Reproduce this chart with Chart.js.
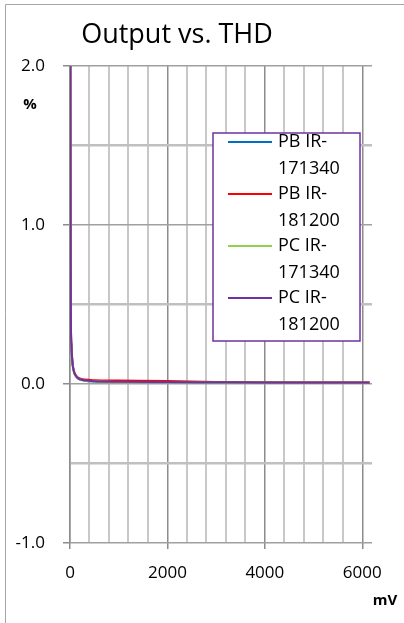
<!DOCTYPE html>
<html>
<head>
<meta charset="utf-8">
<script src="https://cdn.jsdelivr.net/npm/chart.js@4/dist/chart.umd.min.js"></script>
<style>
  html, body { margin: 0; padding: 0; background: #fff; }
  #wrap { width: 404px; height: 623px; position: relative; }
</style>
</head>
<body>
<div id="wrap"><canvas id="thd-chart"></canvas></div>
<script>
// output level in mV, shared by all four measurements
var mv = [3, 6, 10, 15, 20, 30, 45, 60, 80, 100, 150, 200, 300, 500, 1000, 2000, 3000, 4000, 5000, 6150];

var pb171340 = [5.0, 2.6, 1.4, 0.75, 0.34, 0.24, 0.15, 0.105, 0.075, 0.058, 0.038, 0.028, 0.021, 0.016, 0.013, 0.011, 0.010, 0.010, 0.010, 0.010];
var pb181200 = [5.2, 2.7, 1.5, 0.80, 0.36, 0.25, 0.16, 0.115, 0.085, 0.066, 0.045, 0.035, 0.028, 0.024, 0.022, 0.019, 0.013, 0.011, 0.010, 0.010];
var pc171340 = [5.0, 2.6, 1.4, 0.76, 0.34, 0.24, 0.15, 0.108, 0.077, 0.060, 0.040, 0.030, 0.022, 0.017, 0.013, 0.011, 0.010, 0.010, 0.010, 0.010];
var pc181200 = [5.1, 2.6, 1.45, 0.78, 0.35, 0.245, 0.155, 0.11, 0.08, 0.062, 0.041, 0.031, 0.023, 0.017, 0.014, 0.012, 0.011, 0.010, 0.010, 0.010];

var seriesNames = [["PB IR-", "171340"], ["PB IR-", "181200"], ["PC IR-", "171340"], ["PC IR-", "181200"]];
var seriesColors = ["#0070C0", "#FF0000", "#92D050", "#7030A0"];
var seriesValues = [pb171340, pb181200, pc171340, pc181200];

var FONT = "'Open Sans', sans-serif";

function pts(vals) {
    return vals.map(function (v, i) { return { x: mv[i], y: v }; });
}

function isMult(v, step) {
    return Math.abs(v - Math.round(v / step) * step) < 1e-6;
}

var datasets = seriesValues.map(function (vals, i) {
    return {
        label: seriesNames[i].join(" "),
        data: pts(vals),
        borderColor: seriesColors[i],
        backgroundColor: seriesColors[i],
        borderWidth: 2,
        pointRadius: 0,
        cubicInterpolationMode: 'monotone',
        order: seriesValues.length - i, // last series drawn on top, like Excel
        fill: false
    };
});

// title, axis units, outer frame and the boxed legend
var decor = {
    id: 'decor',
    beforeDraw: function (chart) {
        var ctx = chart.ctx;
        ctx.save();
        ctx.strokeStyle = "#a6a6a6";
        ctx.lineWidth = 1;
        ctx.beginPath();
        ctx.moveTo(5.5, 623);
        ctx.lineTo(5.5, 4.5);
        ctx.lineTo(404, 4.5);
        ctx.stroke();
        ctx.restore();
    },
    afterDraw: function (chart) {
        var ctx = chart.ctx;
        ctx.save();
        ctx.fillStyle = "#000";
        ctx.textBaseline = "middle";
        ctx.textAlign = "center";
        ctx.font = "27px " + FONT;
        ctx.fillText("Output vs. THD", 177, 35);
        ctx.font = "bold 15px " + FONT;
        ctx.fillText("%", 30, 105);
        ctx.fillText("mV", 385, 601);

        // legend
        ctx.fillStyle = "#fff";
        ctx.fillRect(213, 133, 147, 208);
        ctx.strokeStyle = "#7030A0";
        ctx.lineWidth = 1.5;
        ctx.strokeRect(213, 133, 147, 208);
        ctx.textAlign = "left";
        ctx.font = "18px " + FONT;
        chart.data.datasets.forEach(function (ds, i) {
            var y = 142 + i * 52;
            ctx.strokeStyle = ds.borderColor;
            ctx.lineWidth = 2;
            ctx.beginPath();
            ctx.moveTo(228, y);
            ctx.lineTo(272, y);
            ctx.stroke();
            ctx.fillStyle = "#000";
            ctx.fillText(seriesNames[i][0], 278, y);
            ctx.fillText(seriesNames[i][1], 278, y + 27);
        });
        ctx.restore();
    }
};

new Chart(document.getElementById("thd-chart"), {
    type: 'line',
    data: { datasets: datasets },
    plugins: [decor],
    options: {
        responsive: true,
        maintainAspectRatio: false,
        animation: false,
        layout: { padding: { top: 66, right: 32, left: 0, bottom: 0 } },
        plugins: {
            legend: { display: false },
            title: { display: false },
            tooltip: { enabled: false }
        },
        scales: {
            x: {
                type: 'linear',
                min: 0,
                max: 6200,
                afterBuildTicks: function (axis) {
                    axis.ticks = [];
                    for (var v = 0; v <= 6000; v += 400) axis.ticks.push({ value: v });
                },
                afterFit: function (axis) { axis.height = 80; },
                ticks: {
                    autoSkip: false,
                    maxRotation: 0,
                    padding: 14,
                    color: "#000",
                    font: { family: FONT, size: 17 },
                    callback: function (v) { return isMult(v, 2000) ? String(Math.round(v)) : ""; }
                },
                grid: {
                    tickLength: 6,
                    color: function (c) {
                        if (!c.tick) return "#c8c8c8";
                        return isMult(c.tick.value, 2000) ? "#8c8c8c" : "#c8c8c8";
                    },
                    lineWidth: function (c) {
                        if (!c.tick) return 2;
                        return isMult(c.tick.value, 2000) ? 1.5 : 2;
                    },
                    tickColor: function (c) {
                        if (!c.tick) return "transparent";
                        return isMult(c.tick.value, 2000) ? "#8c8c8c" : "transparent";
                    }
                },
                border: { display: false }
            },
            y: {
                min: -1,
                max: 2,
                afterFit: function (axis) { axis.width = 70; },
                ticks: {
                    stepSize: 0.5,
                    padding: 18,
                    color: "#000",
                    font: { family: FONT, size: 17 },
                    callback: function (v) { return isMult(v, 1) ? v.toFixed(1) : ""; }
                },
                grid: {
                    tickLength: 7,
                    color: function (c) {
                        if (!c.tick) return "#c0c0c0";
                        return isMult(c.tick.value, 1) ? "#a0a0a0" : "#c0c0c0";
                    },
                    lineWidth: function (c) {
                        if (!c.tick) return 2;
                        return isMult(c.tick.value, 1) ? 1.5 : 2.5;
                    },
                    tickColor: function (c) {
                        if (!c.tick) return "transparent";
                        return isMult(c.tick.value, 1) ? "#8c8c8c" : "transparent";
                    }
                },
                border: { display: true, color: "#8c8c8c", width: 1.5 }
            }
        }
    }
});
</script>
</body>
</html>
